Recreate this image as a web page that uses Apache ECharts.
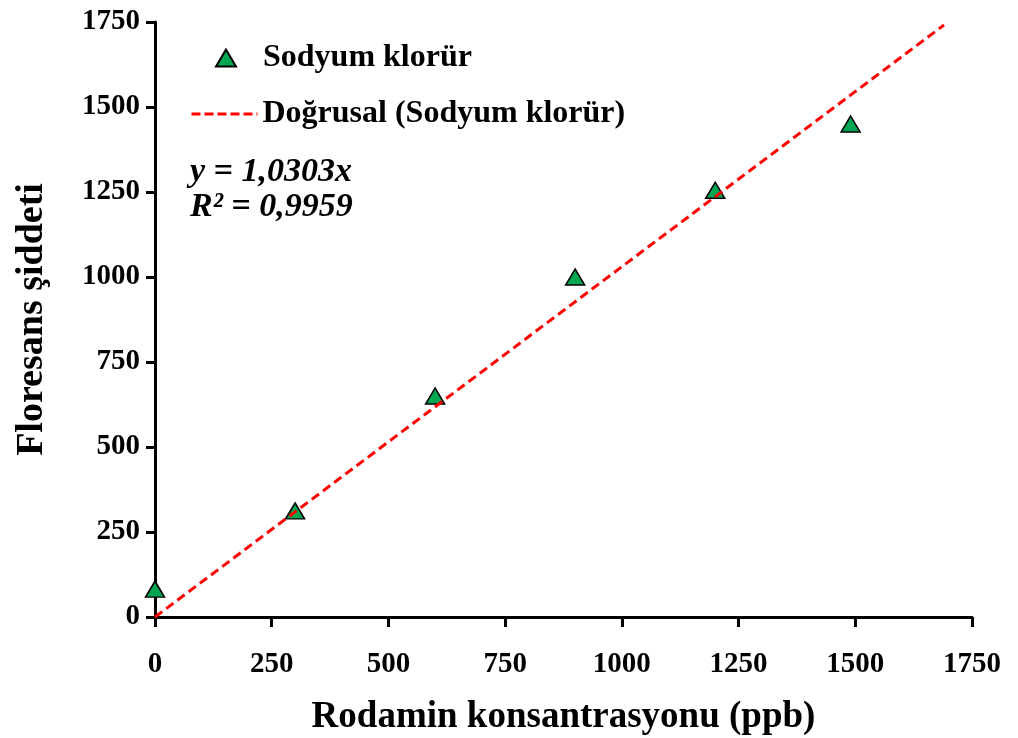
<!DOCTYPE html>
<html>
<head>
<meta charset="utf-8">
<script src="https://cdn.jsdelivr.net/npm/echarts@6/dist/echarts.min.js"></script>
<style>
  html, body { margin: 0; padding: 0; background: #fff; }
  #chart { width: 1018px; height: 738px; }
</style>
</head>
<body>
<div id="chart"></div>
<script>
// olculen noktalar
const concentrations = [0, 300, 600, 900, 1200, 1490]
const intensities = [82, 312, 650, 1000, 1255, 1450]

// dogrusal trend cizgisi: y = 1,0303x
const trendSlope = 1.0303
const trendRange = [0, 1690]

const axisTicks = [0, 250, 500, 750, 1000, 1250, 1500, 1750]

const serif = '"Liberation Serif", "Times New Roman", serif'

const myChart = echarts.init(document.getElementById('chart'))

const option = {
  animation: false,
  grid: {
    left: 155,
    right: 46,
    top: 22,
    bottom: 121,
    outerBoundsMode: 'none'
  },
  legend: [
    {
      data: ['Sodyum klorür'],
      left: 215,
      top: 42,
      padding: 0,
      itemWidth: 20,
      itemHeight: 17,
      textStyle: {
        fontFamily: serif,
        fontWeight: 'bold',
        fontSize: 32,
        color: '#000',
        padding: [0, 0, 0, 22]
      }
    },
    {
      data: ['Doğrusal (Sodyum klorür)'],
      left: 190,
      top: 98,
      padding: 0,
      itemWidth: 66,
      itemHeight: 14,
      itemStyle: { opacity: 0 },
      lineStyle: { width: 3, type: [9, 4] },
      textStyle: {
        fontFamily: serif,
        fontWeight: 'bold',
        fontSize: 32,
        color: '#000'
      }
    }
  ],
  graphic: [
    {
      type: 'text',
      left: 190,
      top: 155,
      style: {
        text: 'y = 1,0303x\nR² = 0,9959',
        font: 'italic bold 34px ' + serif,
        lineHeight: 35,
        fill: '#000'
      }
    }
  ],
  xAxis: {
    type: 'value',
    min: axisTicks[0],
    max: axisTicks[axisTicks.length - 1],
    interval: 250,
    name: 'Rodamin konsantrasyonu (ppb)',
    nameLocation: 'middle',
    nameGap: 82,
    nameTextStyle: {
      fontFamily: serif,
      fontWeight: 'bold',
      fontSize: 37,
      color: '#000'
    },
    splitLine: { show: false },
    axisLine: { lineStyle: { color: '#000', width: 3 } },
    axisTick: { show: true, length: 10, lineStyle: { color: '#000', width: 3 } },
    axisLabel: {
      margin: 33,
      fontFamily: serif,
      fontWeight: 'bold',
      fontSize: 29,
      color: '#000',
      formatter: v => String(v)
    }
  },
  yAxis: {
    type: 'value',
    min: axisTicks[0],
    max: axisTicks[axisTicks.length - 1],
    interval: 250,
    name: 'Floresans şiddeti',
    nameLocation: 'middle',
    nameGap: 104,
    nameTextStyle: {
      fontFamily: serif,
      fontWeight: 'bold',
      fontSize: 38,
      color: '#000'
    },
    splitLine: { show: false },
    axisLine: { show: true, lineStyle: { color: '#000', width: 3 } },
    axisTick: { show: true, length: 9, lineStyle: { color: '#000', width: 3 } },
    axisLabel: {
      margin: 15,
      fontFamily: serif,
      fontWeight: 'bold',
      fontSize: 29,
      color: '#000',
      formatter: v => String(v)
    }
  },
  series: [
    {
      name: 'Doğrusal (Sodyum klorür)',
      type: 'line',
      data: trendRange.map(x => [x, trendSlope * x]),
      symbol: 'none',
      z: 3,
      lineStyle: {
        color: '#ff0000',
        width: 3,
        type: [9, 5]
      },
      itemStyle: { color: '#ff0000' }
    },
    {
      name: 'Sodyum klorür',
      type: 'scatter',
      data: concentrations.map((x, i) => [x, intensities[i]]),
      symbol: 'triangle',
      symbolSize: [19, 16],
      z: 2,
      itemStyle: {
        color: '#00a651',
        borderColor: '#000',
        borderWidth: 1.5,
        opacity: 1
      }
    }
  ]
}

myChart.setOption(option)
</script>
</body>
</html>
